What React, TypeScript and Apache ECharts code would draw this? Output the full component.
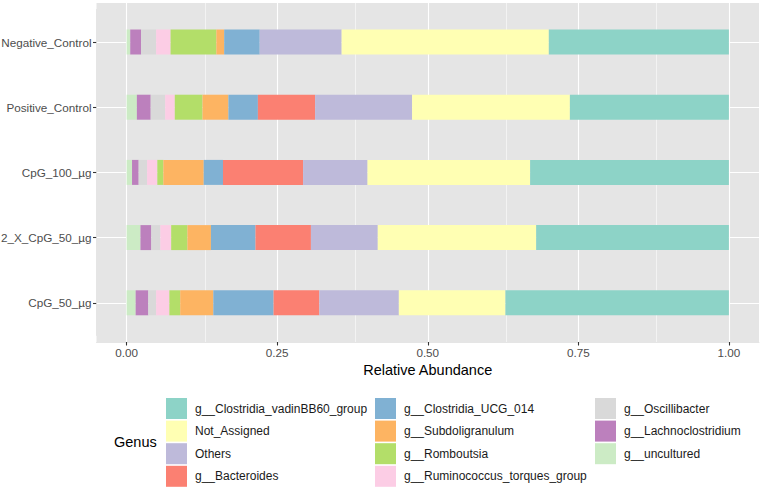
import React, { useEffect, useRef } from "react";
import * as echarts from "echarts";

// Samples, top to bottom
const samples = ["Negative_Control", "Positive_Control", "CpG_100_µg", "2_X_CpG_50_µg", "CpG_50_µg"];

// Relative abundance per genus, one value per sample (same order as `samples`)
const uncultured = [0.006, 0.017, 0.009, 0.023, 0.015];
const lachnoclostridium = [0.018, 0.023, 0.011, 0.018, 0.021];
const oscillibacter = [0.025, 0.024, 0.014, 0.015, 0.013];
const ruminococcus = [0.024, 0.016, 0.017, 0.018, 0.022];
const romboutsia = [0.076, 0.046, 0.01, 0.027, 0.018];
const subdoligranulum = [0.013, 0.043, 0.067, 0.039, 0.055];
const clostridiaUCG014 = [0.059, 0.049, 0.032, 0.074, 0.1];
const bacteroides = [0, 0.095, 0.133, 0.092, 0.076];
const others = [0.136, 0.161, 0.107, 0.111, 0.132];
const notAssigned = [0.344, 0.262, 0.27, 0.263, 0.177];
const vadinBB60 = [0.299, 0.264, 0.33, 0.32, 0.371];

const xTicks = [0, 0.25, 0.5, 0.75, 1];
const xMinorTicks = [0.125, 0.375, 0.625, 0.875];

// Stacking order, left to right
const genera = [
  { name: "g__uncultured", values: uncultured, color: "#CCEBC5" },
  { name: "g__Lachnoclostridium", values: lachnoclostridium, color: "#BC80BD" },
  { name: "g__Oscillibacter", values: oscillibacter, color: "#D9D9D9" },
  { name: "g__Ruminococcus_torques_group", values: ruminococcus, color: "#FCCDE5" },
  { name: "g__Romboutsia", values: romboutsia, color: "#B3DE69" },
  { name: "g__Subdoligranulum", values: subdoligranulum, color: "#FDB462" },
  { name: "g__Clostridia_UCG_014", values: clostridiaUCG014, color: "#80B1D3" },
  { name: "g__Bacteroides", values: bacteroides, color: "#FB8072" },
  { name: "Others", values: others, color: "#BEBADA" },
  { name: "Not_Assigned", values: notAssigned, color: "#FFFFB3" },
  { name: "g__Clostridia_vadinBB60_group", values: vadinBB60, color: "#8DD3C7" },
];

const legendColumns = [
  ["g__Clostridia_vadinBB60_group", "Not_Assigned", "Others", "g__Bacteroides"],
  ["g__Clostridia_UCG_014", "g__Subdoligranulum", "g__Romboutsia", "g__Ruminococcus_torques_group"],
  ["g__Oscillibacter", "g__Lachnoclostridium", "g__uncultured"],
];

const FONT = "'Liberation Sans', Arial, Helvetica, sans-serif";
const PANEL = "#E5E5E5";

export default function App() {
  const ref = useRef<HTMLDivElement>(null);

  useEffect(() => {
    if (!ref.current) return;
    const chart = echarts.init(ref.current, null, { renderer: "svg" });

    const legendLefts = [166, 375, 595];
    // axis lines sit on the panel edge, painted in the panel colour
    const panelEdge = { show: true, onZero: false, lineStyle: { color: PANEL, width: 1 } };

    const option: any = {
      animation: false,
      backgroundColor: "#FFFFFF",
      textStyle: { fontFamily: FONT },
      grid: [
        // bars
        { left: 96.5, right: 1, top: 9.4, height: 326, containLabel: false, outerBoundsMode: "none" },
        // full panel (background, gridlines, x axis)
        {
          left: 96.5,
          right: 1,
          top: 3,
          height: 339,
          show: true,
          backgroundColor: PANEL,
          borderWidth: 0,
          containLabel: false,
          outerBoundsMode: "none",
        },
      ],
      xAxis: [
        {
          type: "value",
          gridIndex: 0,
          min: -0.05,
          max: 1.05,
          axisLine: { show: false, onZero: false },
          axisTick: { show: false },
          axisLabel: { show: false },
          splitLine: { show: false },
        },
        {
          type: "value",
          gridIndex: 1,
          position: "bottom",
          min: -0.05,
          max: 1.05,
          axisLine: panelEdge,
          splitLine: { show: false },
          axisTick: {
            show: true,
            inside: false,
            customValues: xTicks,
            length: 3.5,
            lineStyle: { color: "#333333", width: 1.1 },
          },
          axisLabel: {
            show: true,
            customValues: xTicks,
            formatter: (v: number) => v.toFixed(2),
            color: "#4D4D4D",
            fontSize: 11.7,
            fontFamily: FONT,
            margin: 4,
          },
          name: "Relative Abundance",
          nameLocation: "middle",
          nameGap: 15,
          nameTextStyle: { color: "#000000", fontSize: 14.5, fontFamily: FONT },
        },
      ],
      yAxis: [
        {
          type: "category",
          gridIndex: 0,
          position: "left",
          data: samples,
          inverse: true,
          axisLine: panelEdge,
          axisTick: {
            show: true,
            inside: false,
            alignWithLabel: true,
            length: 3.5,
            lineStyle: { color: "#333333", width: 1.1 },
          },
          axisLabel: { color: "#4D4D4D", fontSize: 11.7, fontFamily: FONT, margin: 5 },
          splitLine: { show: false },
        },
        {
          type: "value",
          gridIndex: 1,
          min: 0,
          max: 5.2,
          inverse: true,
          axisLine: { show: false, onZero: false },
          axisTick: { show: false },
          axisLabel: { show: false },
          splitLine: { show: false },
        },
      ],
      legend: legendColumns.map((col, i) => ({
        data: col,
        orient: "vertical",
        left: legendLefts[i],
        top: 398,
        padding: 0,
        itemWidth: 21,
        itemHeight: 21,
        itemGap: 1.6,
        icon: "rect",
        selectedMode: false,
        textStyle: { color: "#1A1A1A", fontSize: 12, fontFamily: FONT, padding: [0, 0, 0, 3] },
      })),
      graphic: [
        {
          type: "text",
          left: 114,
          top: 434,
          style: { text: "Genus", fontSize: 14.5, fontFamily: FONT, fill: "#000000" },
        },
      ],
      series: [
        // panel gridlines
        {
          type: "line",
          xAxisIndex: 1,
          yAxisIndex: 1,
          data: [],
          silent: true,
          z: 1,
          markLine: {
            silent: true,
            z: 1,
            symbol: ["none", "none"],
            label: { show: false },
            emphasis: { disabled: true },
            data: [
              ...xMinorTicks.map((v) => ({ xAxis: v, lineStyle: { color: "#FFFFFF", width: 0.55, type: "solid" } })),
              ...xTicks.map((v) => ({ xAxis: v, lineStyle: { color: "#FFFFFF", width: 1.1, type: "solid" } })),
              ...samples.map((_, i) => ({
                yAxis: i + 0.6,
                lineStyle: { color: "#FFFFFF", width: 1.1, type: "solid" },
              })),
            ],
          },
        },
        ...genera.map((g) => ({
          name: g.name,
          type: "bar",
          stack: "total",
          xAxisIndex: 0,
          yAxisIndex: 0,
          barWidth: 25,
          z: 10,
          data: g.values,
          itemStyle: { color: g.color },
          emphasis: { disabled: true },
        })),
      ],
    };

    chart.setOption(option);
    return () => chart.dispose();
  }, []);

  return <div ref={ref} style={{ position: "fixed", left: 0, top: 0, width: 760, height: 490 }} />;
}
